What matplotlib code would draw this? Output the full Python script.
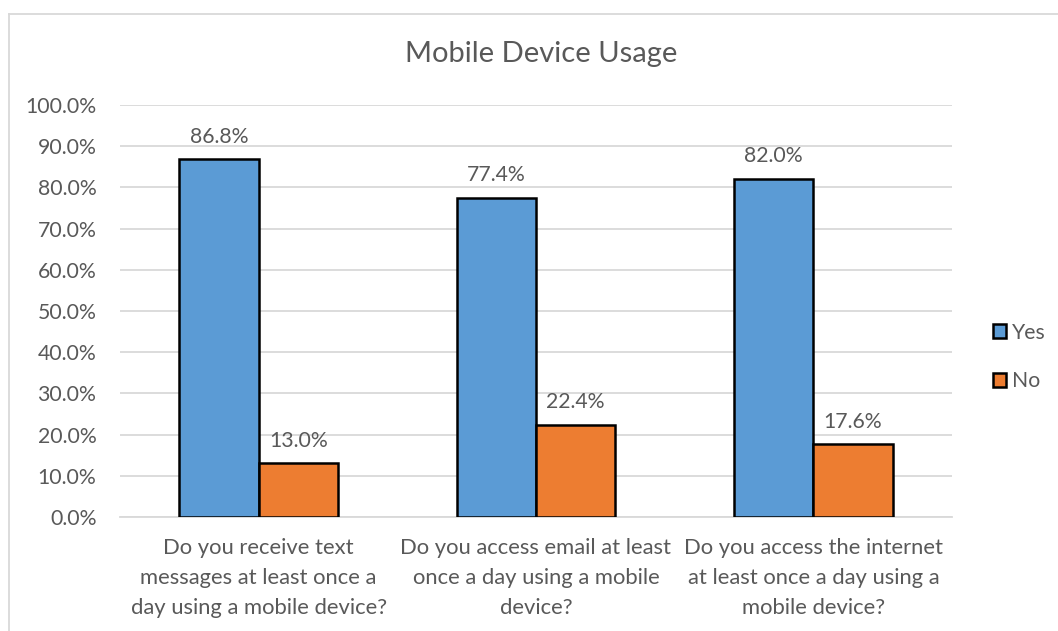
import numpy as np
import matplotlib.pyplot as plt
from matplotlib.patches import Patch
from matplotlib.lines import Line2D

categories = ['Do you receive text\nmessages at least once a\nday using a mobile device?',
              'Do you access email at least\nonce a day using a mobile\ndevice?',
              'Do you access the internet\nat least once a day using a\nmobile device?']
yes_vals = [86.8, 77.4, 82.0]
no_vals = [13.0, 22.4, 17.6]
series = ['Yes', 'No']
colors = ['#5B9BD5', '#ED7D31']
txt = '#595959'

plt.rcParams['font.family'] = ['Lato', 'DejaVu Sans']

fig = plt.figure(figsize=(10.58, 6.31), dpi=100)
ax = fig.add_axes([120/1058, 1-517/631, (952-120)/1058, (517-105)/631])

x = np.arange(len(categories))
w = 1/3.5
b1 = ax.bar(x - w/2, yes_vals, w, color=colors[0], edgecolor='black', linewidth=1.8, zorder=3)
b2 = ax.bar(x + w/2, no_vals, w, color=colors[1], edgecolor='black', linewidth=1.8, zorder=3)
for bars, vals in [(b1, yes_vals), (b2, no_vals)]:
    for r, v in zip(bars, vals):
        ax.annotate('%.1f%%' % v, (r.get_x() + r.get_width()/2, v), xytext=(0, 12),
                    textcoords='offset points', ha='center', va='baseline', fontsize=15.3, color=txt)

ax.set_xlim(-0.5, 2.5)
ax.set_ylim(0, 100)
ax.set_yticks(np.arange(0, 101, 10))
ax.set_yticklabels(['%.1f%%' % t for t in np.arange(0, 101, 10)])
ax.set_xticks(x)
ax.set_xticklabels(categories, linespacing=1.62)
ax.tick_params(axis='both', length=0, labelsize=15.3, labelcolor=txt)
ax.tick_params(axis='x', labelsize=15.8)
ax.tick_params(axis='y', pad=17)
ax.tick_params(axis='x', pad=15)
ax.grid(axis='y', color='#D9D9D9', linewidth=1.3, zorder=0)
for s in ['top', 'right', 'left']:
    ax.spines[s].set_visible(False)
ax.spines['bottom'].set_color('#D9D9D9')
ax.spines['bottom'].set_linewidth(1.3)

fig.text(541/1058, 1-54/631, 'Mobile Device Usage', ha='center', va='center', fontsize=21, color=txt)

handles = [Patch(facecolor=c, edgecolor='black', linewidth=1.8) for c in colors]
fig.legend(handles, series, loc='center left', bbox_to_anchor=(974/1058, 1-357/631), frameon=False,
           fontsize=15.3, labelcolor=txt, handlelength=0.62, handleheight=0.62, handletextpad=0.25,
           labelspacing=1.35)

fig.add_artist(Line2D([9/1058, 9/1058], [0, 1-14/631], color='#D9D9D9', linewidth=1.3))
fig.add_artist(Line2D([9/1058, 1], [1-14/631, 1-14/631], color='#D9D9D9', linewidth=1.3))

fig.savefig('out.png', dpi=100)
